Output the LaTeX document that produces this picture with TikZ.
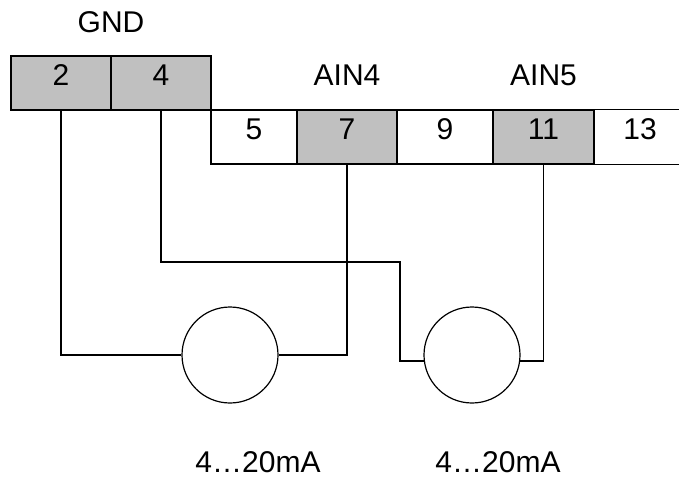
\documentclass[tikz,border=0pt]{standalone}
\usepackage{fontspec}
\setmainfont{Liberation Sans}
\usepackage{tikz}
\usetikzlibrary{calc}
\definecolor{termgray}{HTML}{C0C0C0}
\tikzset{
	term/.style={draw=black, line width=1.2pt, minimum height=54pt, inner sep=0pt, text height=21.5pt, text depth=16pt, font=\fontsize{30}{36}\selectfont},
	label/.style={inner sep=0pt, font=\fontsize{30}{36}\selectfont},
	wire/.style={line width=1.2pt},
	meter/.style={draw=black, line width=1.2pt, circle, minimum size=96pt, inner sep=0pt}
}

\begin{document}
\begin{tikzpicture}[x=1pt, y=-1pt]
		%%%%% START %%%%%
		\useasboundingbox (0, 0) rectangle (679, 480);
		
		\node[term, fill=termgray, minimum width=100pt] (t2) at (61, 83) {2};
		\node[term, fill=termgray, minimum width=100pt] (t4) at (161, 83) {4};
		
		\node[term, minimum width=86pt] (t5) at (254, 137) {5};
		\node[term, fill=termgray, minimum width=100pt] (t7) at (347, 137) {7};
		\node[term, minimum width=96pt] (t9) at (445, 137) {9};
		\node[term, fill=termgray, minimum width=101pt] (t11) at (543.5, 137) {11};
		\node[term, draw=none, minimum width=92pt] (t13) at (640, 137) {13};
		\draw[wire] (t13.north west) -- (t13.north east);
		\draw[wire] (t13.south west) -- (t13.south east);
		
		\node[label] (gnd) at (111, 22) {GND};
		\node[label] (ain4) at (347, 75) {AIN4};
		\node[label] (ain5) at (543.5, 75) {AIN5};
		
		\node[meter] (m1) at (230, 355) {};
		\node[meter] (m2) at (472, 355) {};
		
		\coordinate (j1) at (400, 262);
		\draw[wire] (t2.south) |- (m1.west);
		\draw[wire] (t7.south) |- (m1.east);
		\draw[wire] (t4.south) |- (j1) |- (m2.187);
		\draw[wire] (t11.south) |- (m2.-7);
		
		\node[label] (ma1) at (258, 462) {4…20mA};
		\node[label] (ma2) at (498, 462) {4…20mA};
		%%%%% END %%%%%
	\end{tikzpicture}
\end{document}
